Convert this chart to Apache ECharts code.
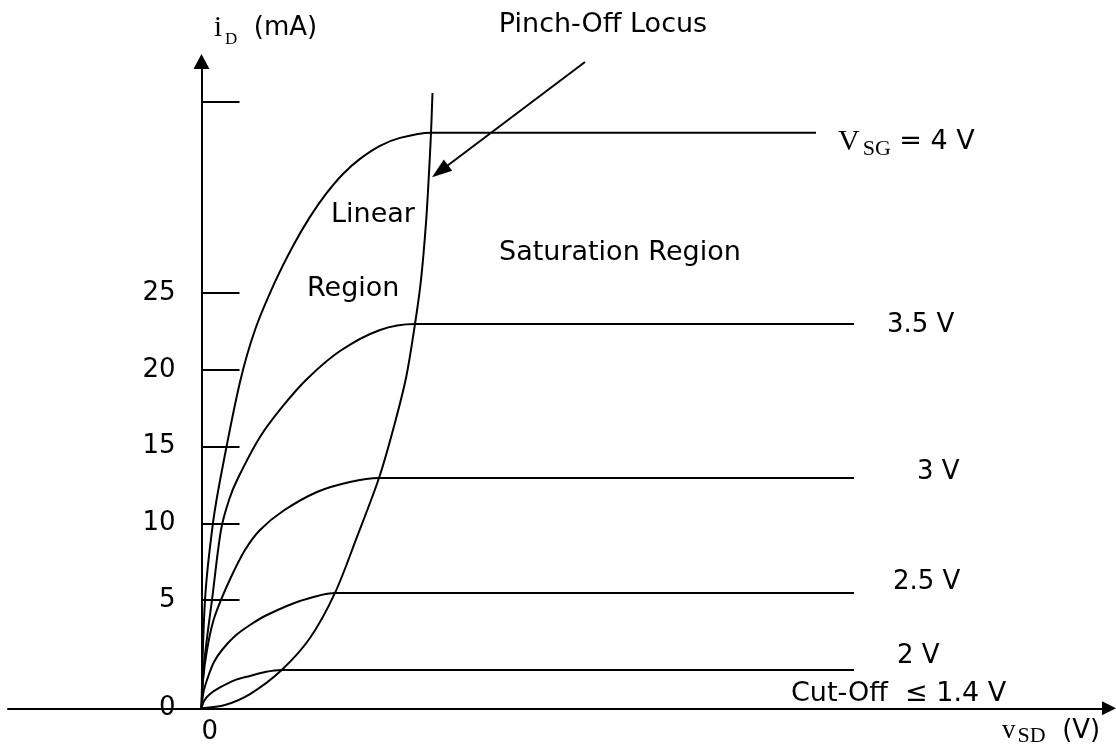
<!DOCTYPE html>
<html>
<head>
<meta charset="utf-8">
<script src="https://cdn.jsdelivr.net/npm/echarts@6/dist/echarts.min.js"></script>
<style>
    html, body { margin: 0; padding: 0; background: #fff; }
    #chart { width: 1116px; height: 752px; }
</style>
</head>
<body>
<div id="chart"></div>
<script>
    // the sketch meets its axes here (the drawing is stretched below the "5" tick)
    var originI = -2.06
    var yTickValues = [5, 10, 15, 20, 25, 37.5]
    var yLabelValues = [originI, 5, 10, 15, 20, 25]
    var xLabelValues = [0]

    // vSD (schematic units), iD (mA)
    var curve4 = [[0, -2.06], [0.035, 5.0], [0.115, 10.02], [0.205, 13.47], [0.385, 19.21], [0.535, 22.6],
        [0.735, 25.73], [0.915, 28.08], [1.085, 29.97], [1.245, 31.47], [1.415, 32.77], [1.585, 33.75],
        [1.785, 34.6], [1.985, 35.12], [2.295, 35.46], [6.145, 35.46]]
    var curve35 = [[0, -2.06], [0.025, 0.76], [0.065, 3.04], [0.105, 5.0], [0.195, 9.56], [0.275, 11.52],
        [0.365, 12.95], [0.585, 15.63], [0.815, 17.65], [1.055, 19.41], [1.385, 21.23], [1.785, 22.6],
        [2.135, 22.99], [6.525, 22.99]]
    var curve3 = [[0, -2.06], [0.015, -0.22], [0.055, 1.74], [0.115, 3.57], [0.195, 5.0], [0.305, 6.63],
        [0.435, 8.26], [0.585, 9.56], [0.815, 10.8], [1.155, 12.04], [1.485, 12.69], [1.775, 12.95], [6.525, 12.95]]
    var curve25 = [[0, -2.06], [0.02, -1.0], [0.065, -0.02], [0.125, 0.96], [0.205, 1.74], [0.335, 2.65],
        [0.485, 3.37], [0.655, 4.02], [0.985, 4.93], [1.335, 5.46], [6.525, 5.46]]
    var curve2 = [[0, -2.06], [0.025, -1.58], [0.085, -1.13], [0.185, -0.7], [0.335, -0.22], [0.485, 0.05],
        [0.635, 0.31], [0.802, 0.44], [6.525, 0.44]]
    var pinchOff = [[0, -2.06], [0.235, -1.84], [0.485, -1.13], [0.802, 0.44], [1.085, 2.52], [1.335, 5.46],
        [1.555, 9.11], [1.775, 12.95], [1.915, 16.08], [2.045, 19.47], [2.135, 22.99], [2.195, 25.86],
        [2.245, 29.58], [2.275, 32.84], [2.295, 35.44], [2.31, 38.05]]
    var pointerFrom = [3.835, 40.07]
    var pointerTo = [2.385, 32.95]

    var sans = 'DejaVu Sans'
    var serif = 'Liberation Serif'

    function curve(data, label) {
        return {
            type: 'line',
            data: data,
            showSymbol: false,
            smooth: 0.3,
            lineStyle: { color: '#000', width: 2 },
            endLabel: label
        }
    }

    function endLabel(text, dx, dy, rich) {
        return {
            show: true,
            formatter: text,
            distance: 0,
            offset: [dx, dy],
            align: 'left',
            verticalAlign: 'middle',
            color: '#000',
            fontFamily: sans,
            fontSize: 26,
            rich: rich
        }
    }

    function note(text, x, y, align) {
        return {
            type: 'text', x: x, y: y,
            style: {
                text: text, font: '27px "DejaVu Sans"', fill: '#000',
                align: align, textAlign: align, verticalAlign: 'middle', textVerticalAlign: 'middle'
            }
        }
    }

    var myChart = echarts.init(document.getElementById('chart'))
    myChart.setOption({
        animation: false,
        backgroundColor: '#fff',
        grid: { left: 8, right: 7, top: 61.5, bottom: 43.7, containLabel: false, outerBoundsMode: 'none' },
        xAxis: {
            type: 'value',
            min: -1.935,
            max: 9.075,
            axisLine: {
                onZero: false,
                symbol: ['none', 'triangle'],
                symbolSize: [14, 14],
                lineStyle: { color: '#000', width: 2 }
            },
            axisTick: { show: false },
            splitLine: { show: false },
            axisLabel: {
                customValues: xLabelValues,
                align: 'left',
                margin: 11,
                color: '#000',
                fontFamily: sans,
                fontSize: 26
            }
        },
        yAxis: {
            type: 'value',
            min: originI,
            max: 40.1,
            // shift the axis from the grid edge to vSD = 0
            offset: -193.5,
            axisLine: {
                onZero: false,
                symbol: ['none', 'triangle'],
                symbolSize: [16, 15],
                lineStyle: { color: '#000', width: 2 }
            },
            axisTick: {
                inside: true,
                length: 38,
                customValues: yTickValues,
                lineStyle: { color: '#000', width: 2 }
            },
            splitLine: { show: false },
            axisLabel: {
                customValues: yLabelValues,
                formatter: function (v) { return v < 0 ? '0' : String(v) },
                margin: 26,
                padding: [0, 0, 20, 0],
                color: '#000',
                fontFamily: sans,
                fontSize: 26
            }
        },
        series: [
            curve(curve4, endLabel('{v|V}{s|SG}{t| = 4 V}', 22, 9, {
                v: { fontFamily: serif, fontSize: 30, color: '#000' },
                s: { fontFamily: serif, fontSize: 22, color: '#000', padding: [16, 0, 0, 3] },
                t: { fontFamily: sans, fontSize: 27, color: '#000' }
            })),
            curve(curve35, endLabel('3.5 V', 33, 1)),
            curve(curve3, endLabel('3 V', 63, -6)),
            curve(curve25, endLabel('2.5 V', 39, -11)),
            curve(curve2, endLabel('2 V', 43, -14)),
            {
                type: 'line',
                data: pinchOff,
                showSymbol: false,
                smooth: 0.3,
                lineStyle: { color: '#000', width: 2 },
                markLine: {
                    silent: true,
                    symbol: ['none', 'triangle'],
                    symbolSize: [14, 20],
                    label: { show: false },
                    lineStyle: { color: '#000', width: 2, type: 'solid' },
                    data: [[{ coord: pointerFrom }, { coord: pointerTo }]]
                }
            }
        ],
        graphic: [
            {
                type: 'text', x: 214, y: 28,
                style: {
                    text: '{i|i}{d|D}{t|  (mA)}',
                    verticalAlign: 'middle', textVerticalAlign: 'middle',
                    rich: {
                        i: { fontFamily: serif, fontSize: 29, fill: '#000' },
                        d: { fontFamily: serif, fontSize: 17, fill: '#000', padding: [24, 0, 0, 3] },
                        t: { fontFamily: sans, fontSize: 26, fill: '#000' }
                    }
                }
            },
            note('Pinch-Off Locus', 603, 25, 'center'),
            note('Linear', 331, 215, 'left'),
            note('Region', 307, 289, 'left'),
            note('Saturation Region', 499, 253, 'left'),
            note('Cut-Off  \u2264 1.4 V', 791, 694, 'left'),
            {
                type: 'text', x: 1002, y: 731,
                style: {
                    text: '{v|v}{s|SD}{t|  (V)}',
                    verticalAlign: 'middle', textVerticalAlign: 'middle',
                    rich: {
                        v: { fontFamily: serif, fontSize: 27, fill: '#000' },
                        s: { fontFamily: serif, fontSize: 22, fill: '#000', padding: [10, 0, 0, 2] },
                        t: { fontFamily: sans, fontSize: 26, fill: '#000' }
                    }
                }
            }
        ]
    })
</script>
</body>
</html>
